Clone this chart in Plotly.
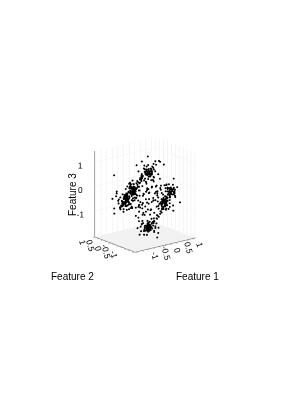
import plotly.graph_objects as go

top = [(0.02,-0.05,1.0),(0.08,0.03,0.95),(-0.06,0.04,1.05),(0.1,-0.08,0.9),(-0.03,0.1,0.88),(0.05,0.06,1.1),(-0.1,-0.04,0.97),(0.0,0.0,0.92),(0.04,-0.02,1.02),(-0.05,-0.09,0.85),
(0.12,0.05,1.0),(-0.08,0.08,0.93),(0.03,0.12,0.98),(0.07,-0.11,1.08),(-0.02,-0.03,0.96),(0.01,0.07,0.86),(0.09,0.01,0.82),(-0.07,0.02,1.12),(0.14,-0.03,0.94),(-0.12,0.06,1.03),
(0.06,0.09,0.9),(-0.01,-0.07,0.99),(0.02,0.02,1.07),(0.11,0.1,0.87),(-0.04,-0.01,0.91),(-0.09,-0.1,1.0),(0.05,-0.06,0.89),(0.0,0.05,1.01),(0.03,-0.1,0.94),(-0.06,0.12,0.97),
(0.22,-0.18,1.3),(-0.15,0.2,1.42),(0.3,0.1,1.25),(0.1,-0.3,1.5),(-0.25,-0.1,1.35),(0.4,-0.1,1.4),(-0.35,0.25,1.3),(0.15,0.25,1.55),(-0.05,-0.25,1.2),(0.2,0.3,1.18),(0.48,-0.3,1.28),(0.28,-0.35,1.45),
(-0.1,0.3,0.8),(-0.05,0.35,0.72),(-0.12,0.28,0.68),(0.02,0.38,0.75),(-0.08,0.42,0.62),(0.0,0.45,0.58),(-0.15,0.5,0.55),(0.05,0.52,0.5),(-0.04,0.58,0.45),(-0.1,0.62,0.42),(0.06,0.65,0.38),(0.0,0.7,0.32),
(0.15,0.2,0.85),(0.2,-0.05,0.78),(-0.2,0.1,0.82),(-0.22,-0.15,1.12),(0.25,0.05,1.12),(0.3,-0.2,0.9),(-0.3,0.2,1.05),(0.35,0.15,1.0),
(0.18,0.12,1.08),(-0.16,0.16,0.76),(0.22,-0.12,1.02),(-0.14,0.22,0.9),(0.12,-0.18,0.8),(0.26,0.14,0.92),(-0.2,-0.05,1.18),(0.08,0.22,1.16),(-0.02,0.18,0.7),(0.16,-0.02,1.2),
(-0.1,0.15,1.14),(0.2,0.18,0.74),(0.06,-0.2,0.72),(-0.18,0.02,0.7),(0.1,0.16,0.66),(0.14,0.08,0.78)]

bottom = [(0.02,0.03,-1.02),(-0.05,-0.04,-1.08),(0.06,0.05,-0.96),(-0.02,0.08,-1.12),(0.09,-0.06,-1.05),(-0.08,0.02,-0.98),(0.04,-0.09,-1.15),(0.0,0.0,-1.0),(-0.1,-0.08,-1.1),(0.12,0.04,-1.03),
(0.03,0.1,-0.92),(-0.04,0.06,-1.18),(0.07,-0.02,-1.09),(-0.06,-0.1,-0.94),(0.01,-0.05,-1.06),(0.05,0.02,-1.13),(-0.03,-0.01,-1.04),(0.1,0.09,-1.0),(-0.09,0.1,-1.07),(0.02,-0.12,-1.01),
(0.14,-0.04,-1.12),(-0.12,-0.03,-1.05),(0.06,0.12,-1.1),(-0.01,0.04,-0.97),(0.08,-0.1,-0.9),(-0.07,0.0,-1.14),(0.0,0.07,-1.2),(0.04,0.0,-0.95),(-0.02,-0.06,-1.16),(0.11,0.01,-1.08),
(-0.05,0.03,-1.03),(0.03,-0.03,-1.11),(0.09,0.06,-1.17),(-0.11,0.07,-0.99),(0.0,-0.09,-0.93),(0.13,0.08,-1.06),(-0.08,-0.06,-1.01),(0.05,0.11,-1.04),
(0.3,-0.2,-1.3),(-0.25,0.2,-1.35),(0.2,0.3,-1.45),(-0.3,-0.15,-1.25),(0.35,0.15,-0.8),(-0.35,0.1,-0.75),(0.15,-0.35,-1.42),(-0.2,0.35,-0.7),(0.42,-0.05,-1.15),(-0.45,0.05,-1.0),(0.25,0.25,-0.65),(-0.15,-0.3,-0.72),(0.5,0.2,-1.05),(-0.4,-0.3,-1.2),(0.1,0.45,-1.5),(-0.1,-0.45,-0.85),
(-0.2,0.05,-0.85),(-0.18,0.12,-0.78),(-0.28,0.02,-0.88),(-0.12,0.22,-0.82),(0.18,-0.12,-0.82),(0.22,0.02,-0.88),(0.15,0.18,-1.28),(-0.15,-0.12,-1.3),(0.2,-0.08,-1.22),(-0.22,0.15,-1.2),
(-0.05,0.3,-0.6),(0.02,0.35,-0.55),(-0.1,0.45,-0.5),(0.08,0.5,-0.42),(-0.04,0.58,-0.35),(0.02,0.62,-0.3),
(0.16,0.14,-1.14),(-0.16,0.18,-0.92),(0.2,-0.16,-1.02),(-0.14,-0.18,-1.16),(0.24,0.1,-0.94),(-0.22,-0.06,-1.08),(0.1,0.2,-0.86),(-0.06,0.2,-1.24),(0.12,-0.2,-1.22),(-0.2,-0.14,-0.9),
(0.26,-0.08,-1.12),(-0.26,0.12,-1.0),(0.08,-0.22,-0.84),(0.04,0.24,-1.26),(-0.1,-0.16,-0.8),(0.18,0.06,-0.76)]

left = [(-1.0,0.02,0.0),(-1.05,-0.05,0.06),(-0.95,0.06,-0.05),(-1.08,0.03,-0.1),(-0.92,-0.04,0.08),(-1.02,0.1,0.1),(-0.98,-0.08,-0.12),(-1.12,-0.02,0.03),(-0.9,0.04,0.02),(-1.04,0.07,-0.02),
(-0.96,0.0,0.12),(-1.1,0.09,-0.06),(-1.0,-0.1,0.05),(-0.94,0.11,-0.08),(-1.06,-0.06,-0.14),(-0.88,-0.02,-0.03),(-1.15,0.05,0.07),(-1.01,0.05,-0.04),(-0.97,-0.03,0.15),(-1.03,-0.01,-0.07),
(-1.09,0.12,0.01),(-0.93,0.08,0.04),(-0.99,0.02,-0.16),(-1.07,-0.09,0.11),(-0.91,-0.07,-0.1),(-1.13,0.01,-0.11),(-1.0,0.0,0.09),(-1.05,0.08,0.14),(-0.95,-0.11,-0.01),(-0.86,0.03,0.09),
(-1.3,0.2,0.25),(-1.25,-0.2,-0.3),(-0.75,0.15,0.3),(-0.7,-0.2,-0.25),(-1.4,-0.1,0.05),(-1.35,0.25,-0.25),(-1.2,0.3,0.4),(-0.8,-0.3,0.35),(-1.45,0.1,-0.4),(-0.65,0.1,-0.35),(-1.28,-0.3,0.35),(-1.5,0.15,0.2),(-1.42,-0.25,-0.15),(-1.38,0.05,0.42),
(-1.2,0.1,-0.2),(-0.82,0.05,0.18),(-1.18,-0.12,0.22),(-0.85,-0.15,-0.18),(-1.22,0.18,0.05),(-0.78,0.02,-0.14),(-1.16,-0.08,-0.24),(-0.8,0.2,0.08),(-1.1,0.22,-0.3),(-0.9,-0.22,0.28),
(-1.24,-0.04,-0.08),(-0.84,0.14,-0.22),(-1.14,0.16,0.18),(-0.76,-0.1,0.12),(-1.26,0.08,0.14),(-0.88,-0.14,-0.24),(-1.12,-0.18,-0.1),(-0.92,0.2,0.22),(-1.2,-0.14,0.02),(-0.82,0.1,-0.06),
(-1.04,0.16,-0.2),(-0.96,-0.16,0.2),(-1.18,0.04,-0.16),(-0.78,-0.06,0.04),(-1.08,-0.14,0.24),(-0.86,0.18,0.16)]

right = [(1.0,0.0,-0.02),(1.05,0.05,0.05),(0.95,-0.06,-0.06),(1.08,-0.03,0.08),(0.92,0.04,-0.1),(1.02,-0.1,0.1),(0.98,0.08,0.12),(1.12,0.02,-0.04),(0.9,-0.04,0.03),(1.04,-0.07,-0.12),
(0.96,0.0,0.07),(1.1,-0.09,0.0),(1.0,0.1,-0.08),(0.94,-0.11,0.14),(1.06,0.06,-0.14),(0.88,0.02,0.02),(1.15,-0.05,0.05),(1.01,-0.05,0.03),(0.97,0.03,-0.15),(1.03,0.01,0.09),
(1.09,-0.12,-0.06),(0.93,-0.08,-0.03),(0.99,-0.02,0.16),(1.07,0.09,-0.09),(0.91,0.07,0.1),(1.13,-0.01,0.12),(1.3,-0.2,-0.3),(1.25,0.2,0.3),(0.75,-0.15,-0.3),(0.7,0.2,0.25),
(1.4,0.1,0.05),(1.35,-0.25,0.3),(1.2,-0.3,-0.42),(0.8,0.3,-0.35),(1.45,-0.1,-0.5),(0.65,-0.1,0.35),(1.1,0.0,-0.6),(1.38,-0.15,-0.62),(1.2,0.1,0.45),
(1.2,0.08,-0.18),(0.82,-0.05,0.2),(1.18,0.12,0.2),(0.85,0.15,-0.2),(1.22,-0.15,0.1),(0.78,-0.02,-0.16),(1.25,-0.08,-0.1),(0.8,-0.18,0.06),
(1.14,0.16,0.04),(0.86,-0.14,-0.14),(1.16,-0.18,0.18),(0.84,0.1,0.14),(1.24,0.04,0.16),(0.9,0.18,-0.02),(1.06,-0.2,-0.2),(0.94,0.2,0.22),
(1.55,-0.2,0.05),(1.62,-0.1,-0.25),(1.5,-0.3,0.3),(1.68,-0.25,-0.1),(1.58,0.0,0.2),(1.72,-0.3,-0.35),(1.46,-0.35,-0.2),(1.6,-0.4,0.12)]

back = [(0.03,1.0,0.02),(-0.05,1.05,-0.05),(0.06,0.95,0.08),(-0.03,1.08,0.1),(0.04,0.92,-0.08),(-0.1,1.02,0.03),(0.08,0.98,-0.12),(-0.02,1.12,-0.02),(0.04,0.9,0.12),(-0.07,1.04,0.14),
(0.0,0.96,-0.04),(0.09,1.1,0.06),(-0.1,1.0,-0.1),(0.11,0.94,0.05),(0.06,1.06,-0.15),(-0.02,0.88,0.01),(-0.05,1.15,0.08),(0.05,1.01,0.15),(-0.03,0.97,-0.07),(0.01,1.03,0.04),
(-0.12,1.09,-0.06),(-0.08,0.93,0.09),(0.02,0.99,-0.16),(0.09,1.07,0.11),(0.07,0.91,-0.02),(-0.01,1.13,0.13),(0.0,1.0,0.0),(-0.06,0.98,-0.03),(0.03,1.05,0.07),(-0.09,0.95,-0.11),
(0.2,1.3,0.3),(-0.2,1.25,-0.3),(0.15,0.75,0.35),(-0.2,0.7,-0.3),(0.1,1.4,-0.1),(-0.25,1.35,0.25),(0.3,1.2,-0.4),(-0.3,0.8,0.4),(0.1,0.65,-0.4),(-0.15,1.45,0.38),
(0.15,1.15,0.2),(-0.15,0.85,0.22),(0.18,0.82,-0.2),(-0.18,1.18,-0.18),(0.22,1.05,0.05),(-0.22,0.95,0.02),(0.12,1.22,-0.22),(-0.12,0.78,0.18),(0.05,1.2,0.22),(-0.05,0.8,-0.22),
(0.16,0.9,0.16),(-0.16,1.12,0.18),(0.2,1.14,-0.08),(-0.14,0.84,-0.06),(0.12,0.78,0.04),(-0.2,1.06,-0.2),(0.06,1.24,0.1),(-0.08,0.76,0.08),(0.18,1.0,-0.22),(-0.18,0.92,0.24),
(0.14,1.18,0.02),(-0.1,1.2,-0.14),(0.1,0.86,-0.18),(-0.04,0.82,0.2),(0.24,0.94,0.12),(-0.24,1.1,0.1)]

front = [(0.02,-1.0,0.0),(0.06,-1.05,-0.06),(-0.06,-0.95,0.05),(-0.03,-1.08,-0.1),(0.04,-0.92,0.1),(-0.1,-1.02,-0.03),(0.08,-0.98,0.12),(0.02,-1.12,0.04),(-0.04,-0.9,-0.12),(-0.07,-1.04,0.08),
(0.0,-0.96,0.14),(-0.09,-1.1,-0.14),(0.1,-1.0,-0.06),(-0.11,-0.94,0.02),(0.06,-1.06,0.09),(0.02,-0.88,-0.08),(-0.05,-1.15,0.03),(0.05,-1.01,-0.16),(0.03,-0.97,0.07),(0.01,-1.03,-0.04),
(-0.12,-1.09,0.06),(-0.08,-0.93,-0.05),(-0.02,-0.99,0.16),(0.09,-1.07,-0.11),(0.07,-0.91,0.03),(-0.01,-1.13,-0.02),(0.2,-1.3,-0.3),(-0.2,-1.25,0.3),(0.15,-0.75,-0.35),(-0.2,-0.7,0.35),
(0.1,-1.4,0.1),(-0.25,-1.35,-0.25),(0.3,-1.2,0.4),(-0.3,-0.8,-0.4),(0.1,-0.65,0.42),(-0.15,-1.45,-0.38),
(0.05,-0.9,-0.3),(-0.05,-0.85,-0.38),(0.02,-0.82,-0.45),(0.0,-0.75,-0.52),(-0.06,-0.68,-0.6),(0.03,-0.62,-0.68),(-0.02,-0.55,-0.75),(0.05,-0.48,-0.8),(-0.04,-0.42,-0.88),
(0.18,-1.12,0.2),(-0.18,-0.88,0.22),(0.2,-0.85,-0.18),(-0.2,-1.15,-0.2),(0.25,-1.0,0.05),(-0.22,-1.02,0.0),
(0.3,-0.75,0.05),(0.42,-0.62,0.02),(0.5,-0.5,-0.05),(0.6,-0.38,0.05),(0.7,-0.28,0.0),
(0.14,-1.16,-0.02),(-0.14,-0.84,-0.14),(0.16,-0.92,0.18),(-0.16,-1.14,0.16),(0.12,-0.8,0.06),(-0.1,-1.2,0.12),(0.2,-1.08,-0.2),(-0.2,-0.94,-0.22),(0.06,-0.78,-0.22),(-0.06,-1.22,-0.18)]

sparse = [(-0.5,0.4,0.5),(0.45,0.3,0.45),(-0.4,-0.5,0.55),(0.5,-0.45,0.5),(-0.55,0.45,-0.5),(0.5,0.5,-0.45),(-0.45,-0.4,-0.55),(0.55,-0.5,-0.5),(0.3,0.2,0.3),(-0.3,0.15,-0.3),
(0.2,-0.3,0.25),(-0.2,-0.2,-0.15),(0.1,0.3,-0.2),(-0.15,0.35,0.2),(0.35,-0.1,-0.25),(-0.35,-0.15,0.15),(0.05,-0.15,0.4),(0.0,0.2,-0.45),(0.25,0.45,0.1),(-0.25,-0.4,0.05),
(0.6,0.1,0.2),(-0.6,-0.05,0.25),(0.65,-0.2,-0.15),(-0.65,0.2,-0.2),(0.15,0.6,0.25),(-0.1,0.65,-0.2),(0.2,-0.65,0.2),(-0.05,-0.6,-0.25),(0.18,0.08,0.62),(-0.2,-0.12,0.68),
(0.12,0.2,-0.6),(-0.18,-0.1,-0.55),(0.75,0.6,0.1),(-0.7,-0.65,0.05),(0.7,-0.7,0.05),(-0.72,0.62,0.1),(0.55,0.05,0.6),(-0.6,0.1,0.62),(0.6,-0.02,-0.6),(-0.58,-0.03,-0.65),
(0.02,0.55,0.62),(-0.04,-0.58,0.6),(0.05,0.6,-0.6),(0.0,-0.55,-0.62),(0.4,0.0,0.05),(-0.42,0.05,-0.08),(0.08,0.42,0.0),(-0.06,-0.4,-0.05),(0.02,0.03,0.3),(0.0,-0.02,-0.28),
(0.33,0.33,-0.7),(-0.33,-0.33,0.75),(0.72,-0.28,0.42),(-0.75,0.3,-0.45),(0.28,-0.72,-0.42),(-0.3,0.75,0.45),(-1.55,0.35,0.6),(1.5,-0.35,-0.7),(-0.9,0.9,0.85),
(-0.62,0.58,0.02),(-0.55,0.65,-0.1),(-0.48,0.72,0.06),(-0.38,0.8,-0.04),(-0.72,0.48,-0.05),(-0.82,0.38,0.08),(-0.28,-0.58,-0.32),(0.32,0.58,0.32),(0.42,-0.25,0.12),(-0.42,0.28,-0.12),
(0.12,-0.28,-0.1),(-0.12,0.12,0.1),(0.25,0.05,-0.12),(-0.05,-0.1,0.18),(0.38,0.22,-0.28),(-0.28,-0.25,0.32),(0.15,0.15,0.1),(0.08,-0.38,0.28),(-0.08,0.28,-0.38),(0.48,0.12,-0.08)]

# the cloud sits off the tick origin: placement relative to the ticks
cloud_shift_x = 0.2
cloud_drop = 0.42
bottom_drop = 0.2
groups = [top, left, right, back, front, sparse]
f1 = [p[0] + cloud_shift_x for g in groups + [bottom] for p in g]
f2 = [p[1] for g in groups + [bottom] for p in g]
f3 = [p[2] - cloud_drop for g in groups for p in g] + [p[2] - cloud_drop - bottom_drop for p in bottom]

grid_vals = [-2, -1.75, -1.5, -1.25, -1, -0.75, -0.5, -0.25, 0, 0.25, 0.5, 0.75, 1, 1.25, 1.5, 1.75]
labels = {-1: "-1", -0.5: "-0.5", 0: "0", 0.5: "0.5", 1: "1"}
grid_text = [labels.get(v, "") for v in grid_vals]

fig = go.Figure(go.Scatter3d(x=f1, y=f2, z=f3, mode="markers",
    marker=dict(size=1.15, color="black", line=dict(width=0))))

def ax(rng, vals, text, size, angle=0, ticks=""):
    return dict(range=rng, tickvals=vals, ticktext=text, title=dict(text=""),
                showbackground=False, showgrid=True, gridcolor="#ececec", gridwidth=1,
                zeroline=False, showline=True, linecolor="#555555", linewidth=1,
                ticks=ticks, ticklen=3, tickcolor="#555555", tickwidth=1,
                tickangle=angle, tickfont=dict(family="Liberation Sans", size=size, color="black"),
                showspikes=False)

zaxis = ax([-2.05, 1.45], [-1, 0, 1], ["-1", "0", "1"], 10)
zaxis.update(showbackground=True, backgroundcolor="#f3f3f3", gridcolor="#f2f2f2")

fig.update_layout(width=289, height=410, margin=dict(l=0, r=0, t=0, b=0),
    paper_bgcolor="white", showlegend=False,
    scene=dict(domain=dict(x=[0.126, 0.826], y=[0.31, 0.78]),
        xaxis=ax([-1.3, 1.4], grid_vals, grid_text, 10, 75, "outside"),
        yaxis=ax([-1.3, 1.3], grid_vals, grid_text, 10, 75, "outside"),
        zaxis=zaxis,
        aspectmode="manual", aspectratio=dict(x=0.8, y=0.68, z=0.93),
        camera=dict(projection=dict(type="orthographic"), eye=dict(x=-0.74, y=-0.935, z=0.375),
                    up=dict(x=0, y=0, z=1), center=dict(x=0, y=0, z=0))))
A = dict(showarrow=False, xref="paper", yref="paper", xanchor="center", yanchor="middle",
         font=dict(family="Liberation Sans", size=10, color="black"))
# the page adds an 8 px body margin, so positions are given 8 px up and left of the target
fig.add_annotation(text="Feature 1", x=189/289, y=1-268/410, **A)
fig.add_annotation(text="Feature 2", x=64/289, y=1-268/410, **A)
fig.add_annotation(text="Feature 3", x=65/289, y=1-187/410, textangle=-90, **A)
fig.write_html("out.html")
